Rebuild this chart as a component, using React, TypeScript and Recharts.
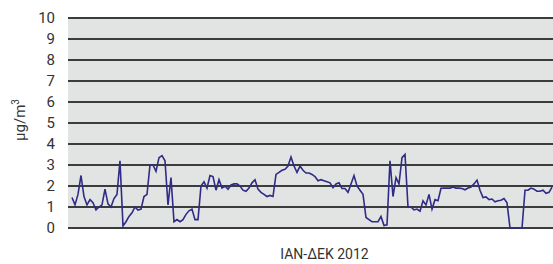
import { LineChart, Line, XAxis, YAxis, CartesianGrid } from 'recharts'

// daily concentration, sampled roughly every 2.3 days through 2012
const values = [
  1.45, 1.1, 1.6, 2.5, 1.5, 1.1, 1.35, 1.2, 0.86, 1.0,
  1.1, 1.85, 1.15, 1.0, 1.4, 1.6, 3.2, 0.1, 0.3, 0.55,
  0.72, 1.0, 0.85, 0.9, 1.5, 1.6, 3.0, 3.0, 2.7, 3.35,
  3.45, 3.2, 1.1, 2.4, 0.3, 0.4, 0.3, 0.4, 0.65, 0.82,
  0.9, 0.4, 0.4, 2.0, 2.2, 1.9, 2.5, 2.45, 1.8, 2.3,
  1.9, 2.0, 1.85, 2.05, 2.1, 2.1, 2.0, 1.8, 1.75, 1.9,
  2.15, 2.3, 1.85, 1.7, 1.6, 1.5, 1.55, 1.5, 2.55, 2.65,
  2.75, 2.8, 2.95, 3.38, 2.95, 2.65, 2.95, 2.75, 2.62, 2.62,
  2.55, 2.45, 2.25, 2.3, 2.25, 2.2, 2.15, 1.92, 2.1, 2.15,
  1.88, 1.88, 1.7, 2.1, 2.5, 2.0, 1.8, 1.6, 0.5, 0.4,
  0.3, 0.3, 0.3, 0.55, 0.12, 0.15, 3.2, 1.5, 2.4, 2.1,
  3.35, 3.5, 1.0, 1.0, 0.86, 0.9, 0.8, 1.3, 1.1, 1.6,
  0.9, 1.35, 1.3, 1.89, 1.9, 1.9, 1.9, 1.95, 1.9, 1.9,
  1.88, 1.82, 1.9, 1.95, 2.1, 2.28, 1.8, 1.45, 1.48, 1.35,
  1.38, 1.25, 1.3, 1.32, 1.4, 1.2, 0, 0, 0, 0,
  0, 1.8, 1.8, 1.9, 1.85, 1.75, 1.75, 1.8, 1.65, 1.7,
  1.95,
]

const yTicks = [0, 1, 2, 3, 4, 5, 6, 7, 8, 9, 10]
const xTitle = 'IAN-ΔΕΚ 2012'
const yTitle = 'μg/m'

const data = values.map((v, i) => ({ i, v }))

const FONT = 'Roboto, "DejaVu Sans", sans-serif'

function YTitle({ viewBox }: any) {
  const cy = viewBox.y + viewBox.height / 2 - 3
  return (
    <text
      x={0}
      y={0}
      transform={`translate(25, ${cy}) rotate(-90)`}
      textAnchor="middle"
      fontFamily={FONT}
      fontSize={15}
      fill="#333"
    >
      {yTitle}
      <tspan fontSize={10} dy={-6}>3</tspan>
    </text>
  )
}

function XTitle({ viewBox }: any) {
  return (
    <text
      x={viewBox.x + viewBox.width / 2 + 14}
      y={viewBox.y + 31}
      textAnchor="middle"
      fontFamily={FONT}
      fontSize={14}
      fill="#333"
    >
      {xTitle}
    </text>
  )
}

export default function App() {
  return (
    <div style={{ position: 'absolute', left: 0, top: 0, background: '#fff' }}>
      <LineChart
        width={553}
        height={264}
        data={data}
        margin={{ top: 18, right: 0, left: 0, bottom: 0 }}
      >
        <CartesianGrid
          vertical={false}
          fill="#e2e3e3"
          stroke="#3c3c3c"
          strokeWidth={2}
          horizontalValues={yTicks}
        />
        <XAxis
          dataKey="i"
          type="number"
          domain={[-1.33, values.length - 1 + 0.33]}
          tick={false}
          axisLine={false}
          tickLine={false}
          height={36}
          label={<XTitle />}
        />
        <YAxis
          domain={[0, 10]}
          ticks={yTicks}
          width={68}
          axisLine={false}
          tickLine={false}
          tickSize={0}
          tickMargin={13}
          interval={0}
          tick={{ fontFamily: FONT, fontSize: 15, fill: '#333' }}
          label={<YTitle />}
        />
        <Line
          type="linear"
          dataKey="v"
          stroke="#2f2b86"
          strokeWidth={1.6}
          dot={false}
          isAnimationActive={false}
        />
      </LineChart>
    </div>
  )
}
